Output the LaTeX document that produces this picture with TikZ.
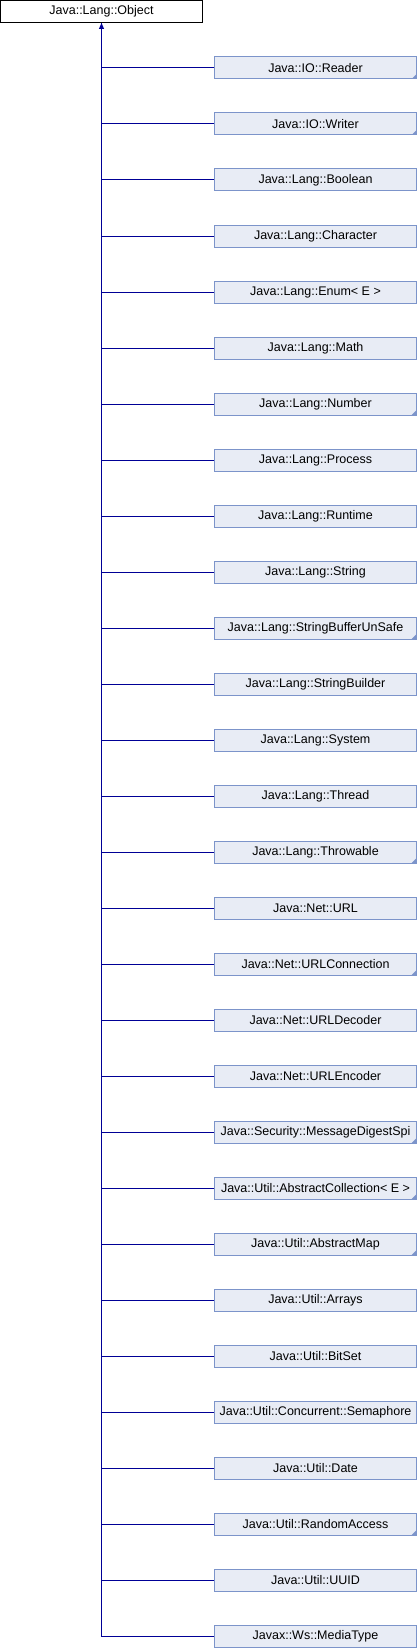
\documentclass[tikz,border=0pt]{standalone}
\usepackage{fontspec}
\setmainfont{Liberation Sans}
\usepackage{tikz}
\usetikzlibrary{shapes,arrows.meta}
\usetikzlibrary{positioning}
\definecolor{boxfill}{RGB}{232,236,245}
\definecolor{boxline}{RGB}{124,148,202}
\definecolor{linkline}{RGB}{0,0,150}
\tikzstyle{base} = [rectangle, draw=black, fill=white, line width=1pt,
    minimum width=202pt, minimum height=22pt, inner sep=0pt,
    font=\fontsize{12.5}{14}\selectfont]
\tikzstyle{block} = [base, draw=boxline, fill=boxfill]
\tikzstyle{blocksub} = [block, path picture={
    \fill [boxline] (path picture bounding box.south east) -- ++(-5pt,0)
      -- ++(5pt,5pt) -- cycle;}]
\tikzstyle{link} = [draw=linkline, line width=1pt]

\begin{document}
\begin{tikzpicture}[x=1pt, y=1pt, node distance = 56pt]
  \useasboundingbox (0,0) rectangle (418,-1648);
  % Place nodes
  \node [base] (Object) at (101.5,-11.5) {Java::Lang::Object};
  \node [blocksub] (Reader) at (315.5,-68) {Java::IO::Reader};
  \node [blocksub, below of=Reader] (Writer) {Java::IO::Writer};
  \node [block, below of=Writer] (Boolean) {Java::Lang::Boolean};
  \node [block, below of=Boolean] (Character) {Java::Lang::Character};
  \node [block, below of=Character] (Enum) {Java::Lang::Enum< E >};
  \node [block, below of=Enum] (Math) {Java::Lang::Math};
  \node [blocksub, below of=Math] (Number) {Java::Lang::Number};
  \node [block, below of=Number] (Process) {Java::Lang::Process};
  \node [block, below of=Process] (Runtime) {Java::Lang::Runtime};
  \node [block, below of=Runtime] (String) {Java::Lang::String};
  \node [blocksub, below of=String] (StringBufferUnSafe)
  {Java::Lang::StringBufferUnSafe};
  \node [block, below of=StringBufferUnSafe] (StringBuilder)
  {Java::Lang::StringBuilder};
  \node [block, below of=StringBuilder] (System) {Java::Lang::System};
  \node [block, below of=System] (Thread) {Java::Lang::Thread};
  \node [blocksub, below of=Thread] (Throwable) {Java::Lang::Throwable};
  \node [block, below of=Throwable] (URL) {Java::Net::URL};
  \node [blocksub, below of=URL] (URLConnection) {Java::Net::URLConnection};
  \node [block, below of=URLConnection] (URLDecoder) {Java::Net::URLDecoder};
  \node [block, below of=URLDecoder] (URLEncoder) {Java::Net::URLEncoder};
  \node [blocksub, below of=URLEncoder] (MessageDigestSpi)
  {Java::Security::MessageDigestSpi};
  \node [blocksub, below of=MessageDigestSpi] (AbstractCollection)
  {Java::Util::AbstractCollection< E >};
  \node [blocksub, below of=AbstractCollection] (AbstractMap)
  {Java::Util::AbstractMap};
  \node [block, below of=AbstractMap] (Arrays) {Java::Util::Arrays};
  \node [block, below of=Arrays] (BitSet) {Java::Util::BitSet};
  \node [block, below of=BitSet] (Semaphore)
  {Java::Util::Concurrent::Semaphore};
  \node [block, below of=Semaphore] (Date) {Java::Util::Date};
  \node [blocksub, below of=Date] (RandomAccess) {Java::Util::RandomAccess};
  \node [block, below of=RandomAccess] (UUID) {Java::Util::UUID};
  \node [block, below of=UUID] (MediaType) {Javax::Ws::MediaType};
  % Draw edges
  \foreach \child in {Reader, Writer, Boolean, Character, Enum, Math, Number,
      Process, Runtime, String, StringBufferUnSafe, StringBuilder, System,
      Thread, Throwable, URL, URLConnection, URLDecoder, URLEncoder,
      MessageDigestSpi, AbstractCollection, AbstractMap, Arrays, BitSet,
      Semaphore, Date, RandomAccess, UUID, MediaType}
    \draw [link] (\child.west) -| (Object.south);
  \draw [link, -{Triangle[width=5pt,length=6pt]}] (Reader.west) -| (Object.south);
\end{tikzpicture}
\end{document}
